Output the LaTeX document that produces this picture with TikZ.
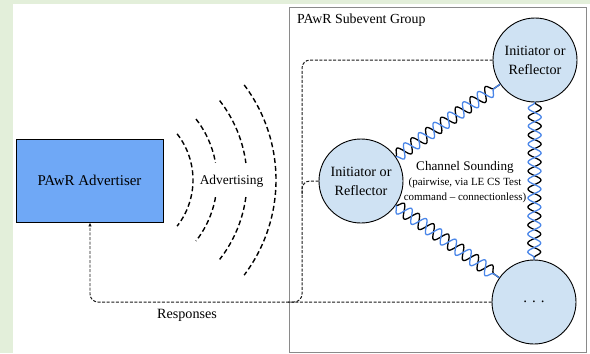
\documentclass[tikz,border=0pt]{standalone}
\usepackage{fontspec}
\setmainfont{Liberation Serif}
\usetikzlibrary{arrows.meta,positioning,calc,decorations.pathmorphing}
\definecolor{PageGreen}{HTML}{E3EFDA}
\definecolor{AdvBlue}{HTML}{6FA8F6}
\definecolor{NodeBlue}{HTML}{CFE2F3}
\definecolor{WireBlue}{HTML}{4A86E8}
\definecolor{BoxGray}{HTML}{8A8A8A}
\definecolor{BusGray}{HTML}{1A1A1A}

\begin{document}
\begin{tikzpicture}[x=1bp,y=-1bp,>=Latex,
    device/.style={circle, draw=black, fill=NodeBlue, line width=0.9pt, minimum size=84bp,
        inner sep=0pt, align=center, font=\fontsize{14.2}{19}\selectfont},
    wire/.style={line width=1.3pt, decorate, decoration={snake, amplitude=6.5bp, segment length=18bp}},
    bus/.style={BusGray, line width=1pt, dash pattern=on 3bp off 1.6bp, rounded corners=8bp},
    wave/.style={black, line width=1.4pt, dash pattern=on 5bp off 3bp}
]
    \useasboundingbox (0,0) rectangle (590,353);
    \fill[PageGreen] (0,0) rectangle (590,353);
    \fill[white] (13,4) rectangle (590,353);
    % subevent group frame
    \draw[BoxGray, line width=0.8pt] (289,7) rectangle (586,352);
    \node[anchor=north west, inner sep=0pt, font=\fontsize{13.9}{16}\selectfont] (grouplabel) at (297,14) {PAwR Subevent Group};
    % advertiser and the radio waves
    \node[draw=black, fill=AdvBlue, line width=0.9pt, minimum width=147bp, minimum height=83bp,
        font=\fontsize{15}{18}\selectfont] (adv) at (89.5,180.5) {PAwR Advertiser};
    \draw[wave] (118,180) ++(-38:75) arc[start angle=-38, end angle=38, radius=75];
    \draw[wave] (118,180) ++(-38:99) arc[start angle=-38, end angle=-10, radius=99];
    \draw[wave] (118,180) ++(10:99) arc[start angle=10, end angle=38, radius=99];
    \draw[wave] (118,180) ++(-38:129) arc[start angle=-38, end angle=-7.6, radius=129];
    \draw[wave] (118,180) ++(7.6:129) arc[start angle=7.6, end angle=38, radius=129];
    \draw[wave] (118,180) ++(-37:158) arc[start angle=-37, end angle=37, radius=158];
    \node[font=\fontsize{13.5}{16}\selectfont] (advlabel) at (231.5,181) {Advertising};
    % group members
    \node[device] (top) at (535,60) {Initiator or\\Reflector};
    \node[device] (left) at (361,181) {Initiator or\\Reflector};
    \node[device, font=\fontsize{15}{18}\selectfont] (bot) at (534,302) {.\hspace{5bp}.\hspace{5bp}.};
    % channel sounding links
    \foreach \a/\b in {left/top,top/bot,left/bot}{
        \draw[wire, black] (\a) -- (\b);
        \draw[wire, WireBlue, decoration={mirror}] (\a) -- (\b);
    }
    \node[align=center, font=\fontsize{11}{15}\selectfont] (cstext) at (465,182)
        {{\fontsize{13.2}{15}\selectfont Channel Sounding}\\(pairwise, via LE CS Test\\command -- connectionless)};
    % responses back to the advertiser
    \draw[bus] (top.west) -- (302,60) -- (302,302) -- (288,302);
    \draw[bus] (left.west) -- (302,181) -- (302,195);
    \draw[bus, -{Latex[length=4bp,width=3.5bp]}] (bot.west) -- (90,302) -- (adv.south -| 90,0);
    \node[font=\fontsize{14.2}{16}\selectfont] (resp) at (187,315) {Responses};
\end{tikzpicture}
\end{document}
